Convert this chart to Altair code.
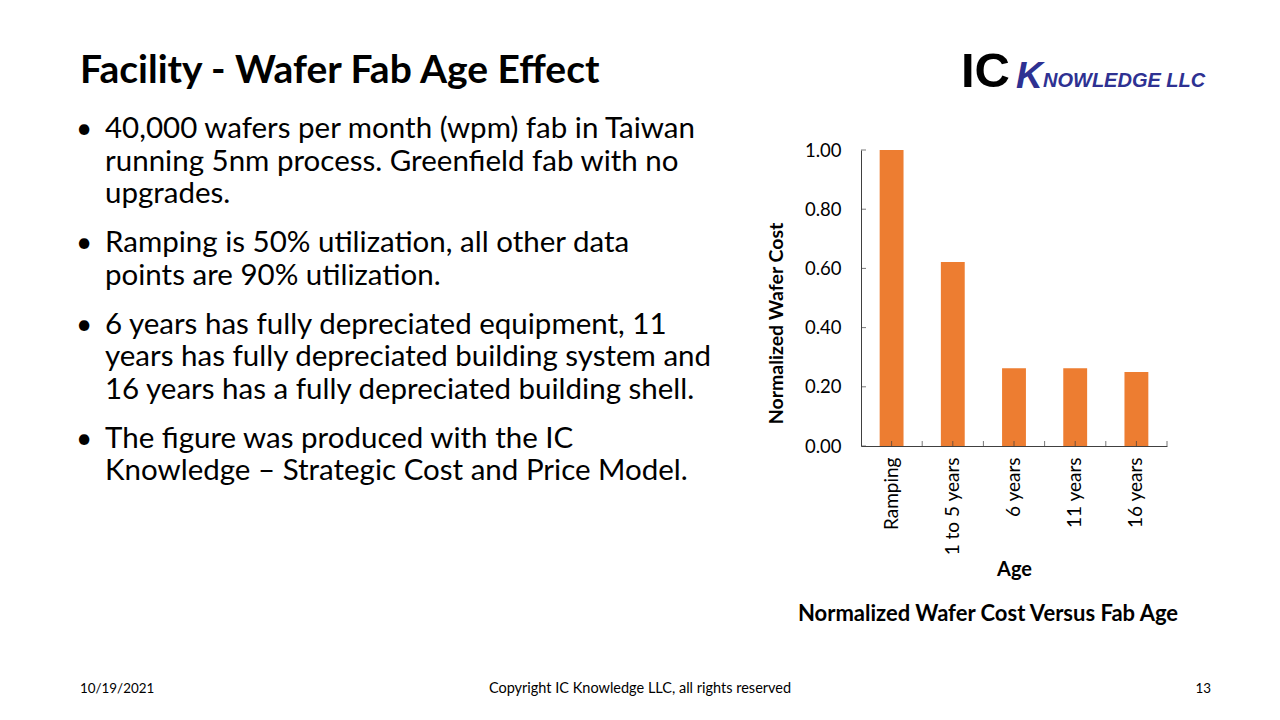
import altair as alt
import pandas as pd

# ---------------- data ----------------
ages = ["Ramping", "1 to 5 years", "6 years", "11 years", "16 years"]
costs = [1.00, 0.622, 0.263, 0.263, 0.250]
y_tick_values = [0.0, 0.2, 0.4, 0.6, 0.8, 1.0]

slide_title = "Facility - Wafer Fab Age Effect"
bullets = [
    ["40,000 wafers per month (wpm) fab in Taiwan",
     "running 5nm process. Greenfield fab with no",
     "upgrades."],
    ["Ramping is 50% utilization, all other data",
     "points are 90% utilization."],
    ["6 years has fully depreciated equipment, 11",
     "years has fully depreciated building system and",
     "16 years has a fully depreciated building shell."],
    ["The figure was produced with the IC",
     "Knowledge \u2013 Strategic Cost and Price Model."],
]
chart_caption = "Normalized Wafer Cost Versus Fab Age"
footer_date = "10/19/2021"
footer_copy = "Copyright IC Knowledge LLC, all rights reserved"
footer_page = "13"
logo_ic = "IC"
logo_k = "K"
logo_rest = "NOWLEDGE LLC"

# ---------------- layout ----------------
W, H = 306, 296
OX, OY = 861, 150   # page position of the plot origin
FONT = "Lato"
BAR = "#ED7D31"
AX = "#404040"
BLUE = "#2E3192"

df = pd.DataFrame({"Age": ages, "Cost": costs})
ydf = pd.DataFrame({"Cost": y_tick_values})
xsc = alt.Scale(paddingInner=0, paddingOuter=0)
ysc = alt.Scale(domain=[0, 1], nice=False, zero=True)

x_axis = alt.Axis(title="Age", labelAngle=-90, labelFont=FONT, labelFontSize=19,
                  labelColor="#000", labelPadding=11, ticks=False, tickSize=0,
                  domainColor=AX, titleFont=FONT, titleFontSize=20,
                  titleFontWeight="bold", titleColor="#000", titlePadding=4)
y_axis = alt.Axis(title="Normalized Wafer Cost", format=".2f", values=y_tick_values,
                  grid=False, ticks=False, tickSize=0, labelPadding=20,
                  labelFont=FONT, labelFontSize=18.5, labelColor="#000",
                  domainColor=AX, titleFont=FONT, titleFontSize=19.5,
                  titleFontWeight="bold", titleColor="#000", titlePadding=18,
                  titleY=173)

bars = alt.Chart(df).mark_bar(color=BAR, width=alt.RelativeBandSize(0.39)).encode(
    x=alt.X("Age:N", sort=ages, scale=xsc, axis=x_axis),
    y=alt.Y("Cost:Q", scale=ysc, axis=y_axis),
)

xt_center = alt.Chart(df).mark_tick(orient="vertical", color=AX, size=5, thickness=1).encode(
    x=alt.X("Age:N", sort=ages, scale=xsc, bandPosition=0.5, axis=x_axis),
    y=alt.value(H - 2.5),
)
xt_edge = alt.Chart(df).mark_tick(orient="vertical", color=AX, size=5, thickness=1).encode(
    x=alt.X("Age:N", sort=ages, scale=xsc, bandPosition=1, axis=x_axis),
    y=alt.value(H - 2.5),
)
yt = alt.Chart(ydf).mark_tick(orient="horizontal", color=AX, size=5, thickness=1).encode(
    y=alt.Y("Cost:Q", scale=ysc, axis=y_axis),
    x=alt.value(2.5),
)


def txt(s, px, py, size, weight="normal", align="left", color="#000", font=FONT, style="normal"):
    return alt.Chart(pd.DataFrame({"t": [s]})).mark_text(
        align=align, baseline="alphabetic", font=font, fontSize=size, fontWeight=weight,
        fontStyle=style, color=color
    ).encode(text="t:N", x=alt.value(px - OX), y=alt.value(py - OY))


layers = [bars, xt_center, xt_edge, yt]
layers.append(txt(slide_title, 80, 83, 39, "bold"))

y = 138
for group in bullets:
    layers.append(txt("\u2022", 84, y, 28, align="center"))
    for line in group:
        layers.append(txt(line, 105, y, 29.5))
        y += 32.5
    y += 16.5

layers.append(txt(chart_caption, 988, 621, 22, "bold", align="center"))
layers.append(txt(footer_date, 80, 693, 13.4))
layers.append(txt(footer_copy, 640, 693, 14.5, align="center"))
layers.append(txt(footer_page, 1211, 693, 13.4, align="right"))
layers.append(txt(logo_ic, 961, 87, 49, "bold", font="Liberation Sans"))
layers.append(txt(logo_k, 1016, 88, 37, "bold", color=BLUE, font="Liberation Sans", style="italic"))
layers.append(txt(logo_rest, 1043, 87, 20, "bold", color=BLUE, font="Liberation Sans", style="italic"))

chart = alt.layer(*layers).properties(
    width=W, height=H,
    padding={"left": OX - 8, "top": OY - 8, "right": 1264 - (OX - 8) - W, "bottom": 700 - (OY - 8) - H},
    autosize=alt.AutoSizeParams(type="none"),
    background="white",
).configure_view(stroke=None)

chart.save("out.html", embed_options={"renderer": "svg", "actions": False})
